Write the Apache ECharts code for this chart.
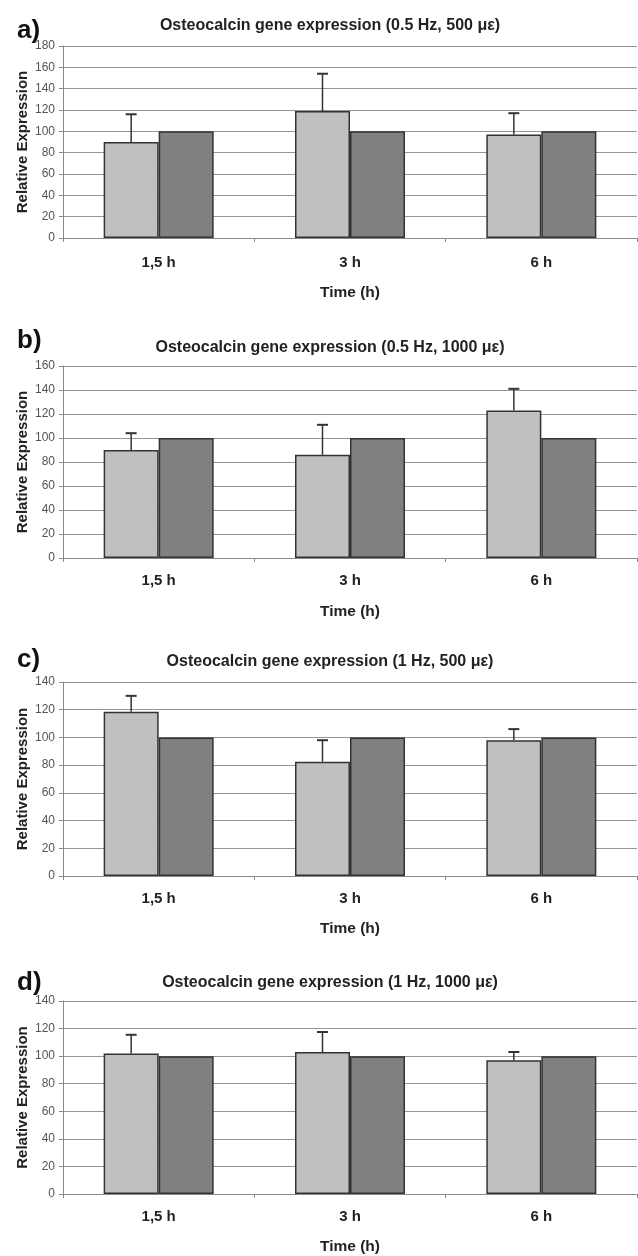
<!DOCTYPE html>
<html><head><meta charset="utf-8">
<script src="https://cdn.jsdelivr.net/npm/echarts@6/dist/echarts.min.js"></script>
<style>html,body{margin:0;padding:0;background:#fff}#c{width:638px;height:1256px}</style>
</head><body><div id="c"></div>
<script>
const categories = ['1,5 h', '3 h', '6 h'];
const panelLabels = ['a)', 'b)', 'c)', 'd)'];
const panelTitles = [
  'Osteocalcin gene expression (0.5 Hz, 500 \u03BC\u03B5)',
  'Osteocalcin gene expression (0.5 Hz, 1000 \u03BC\u03B5)',
  'Osteocalcin gene expression (1 Hz, 500 \u03BC\u03B5)',
  'Osteocalcin gene expression (1 Hz, 1000 \u03BC\u03B5)'
];
const stimA = [90, 119, 97];
const sdA = [26, 35, 20];
const stimB = [90, 86, 123];
const sdB = [14, 25, 18];
const stimC = [118.5, 82.5, 98];
const sdC = [11.5, 15.5, 8];
const stimD = [102, 103, 97];
const sdD = [13.5, 14.5, 6];
const control = [100, 100, 100];
const yMax = [180, 160, 140, 140];
const yInterval = 20;
const xAxisName = 'Time (h)';
const yAxisName = 'Relative Expression';

const stim = [stimA, stimB, stimC, stimD];
const sds = [sdA, sdB, sdC, sdD];

// layout
const gridTops = [46, 366, 682, 1001];
const gridHeights = [192, 192, 194, 195];
const titleTops = [13, 335, 649, 970];
const labelTops = [13, 323, 642, 965];
const catMargins = [17, 15, 15, 15];
const nameGaps = [47, 46, 45, 45];
const CAT_GAP = 0.425;
const FONT = 'Liberation Sans, Arial, sans-serif';

const option = {
  animation: false,
  backgroundColor: '#fff',
  title: [],
  grid: [],
  xAxis: [],
  yAxis: [],
  series: []
};

for (let i = 0; i < 4; i++) {
  option.title.push({
    text: panelTitles[i], left: 325, top: titleTops[i], textAlign: 'center',
    textStyle: {fontFamily: FONT, fontSize: 16, fontWeight: 'bold', color: '#222'}
  });
  option.title.push({
    text: panelLabels[i], left: 12, top: labelTops[i],
    textStyle: {fontFamily: FONT, fontSize: 26, fontWeight: 'bold', color: '#111'}
  });
  option.grid.push({left: 63, right: 1, top: gridTops[i], height: gridHeights[i], containLabel: false});
  option.xAxis.push({
    type: 'category', gridIndex: i, data: categories,
    name: xAxisName, nameLocation: 'middle', nameGap: nameGaps[i],
    nameTextStyle: {fontFamily: FONT, fontSize: 15.5, fontWeight: 'bold', color: '#222'},
    axisLine: {lineStyle: {color: '#8a8a8a', width: 1}},
    axisTick: {show: true, length: 4, lineStyle: {color: '#8a8a8a'}},
    axisLabel: {margin: catMargins[i], fontFamily: FONT, fontSize: 15, fontWeight: 'bold', color: '#222'},
    splitLine: {show: false}
  });
  option.yAxis.push({
    type: 'value', gridIndex: i, min: 0, max: yMax[i], interval: yInterval,
    name: yAxisName, nameLocation: 'middle', nameGap: 33, nameRotate: 90,
    nameMoveOverlap: false,
    nameTextStyle: {fontFamily: FONT, fontSize: 15, fontWeight: 'bold', color: '#222'},
    axisLine: {show: true, lineStyle: {color: '#8a8a8a', width: 1}},
    axisTick: {show: true, length: 4, lineStyle: {color: '#8a8a8a'}},
    axisLabel: {margin: 8, fontFamily: FONT, fontSize: 12, color: '#555'},
    splitLine: {show: true, lineStyle: {color: '#959595', width: 1}}
  });
  option.series.push({
    type: 'bar', xAxisIndex: i, yAxisIndex: i, data: stim[i],
    barGap: '0%', barCategoryGap: (CAT_GAP * 100) + '%',
    itemStyle: {color: '#c0c0c0', borderColor: '#333', borderWidth: 1.5}
  });
  option.series.push({
    type: 'bar', xAxisIndex: i, yAxisIndex: i, data: control,
    barGap: '0%', barCategoryGap: (CAT_GAP * 100) + '%',
    itemStyle: {color: '#808080', borderColor: '#333', borderWidth: 1.5}
  });
  const m = stim[i], s = sds[i];
  option.series.push({
    type: 'custom', xAxisIndex: i, yAxisIndex: i, z: 1,
    data: m.map((v, k) => [k, v, v + s[k]]),
    renderItem: function (params, api) {
      const k = api.value(0);
      const base = api.coord([k, api.value(1)]);
      const top = api.coord([k, api.value(2)]);
      const band = api.size([1, 0])[0];
      const bw = band * (1 - CAT_GAP) / 2;
      const x = base[0] - bw / 2;
      const cap = 5.5;
      return {
        type: 'group',
        children: [
          {type: 'line', shape: {x1: x, y1: base[1], x2: x, y2: top[1]}, style: {stroke: '#333', lineWidth: 1.5}},
          {type: 'line', shape: {x1: x - cap, y1: top[1], x2: x + cap, y2: top[1]}, style: {stroke: '#333', lineWidth: 2}}
        ]
      };
    }
  });
}

const chart = echarts.init(document.getElementById('c'), null, {renderer: 'canvas'});
chart.setOption(option);
</script></body></html>
